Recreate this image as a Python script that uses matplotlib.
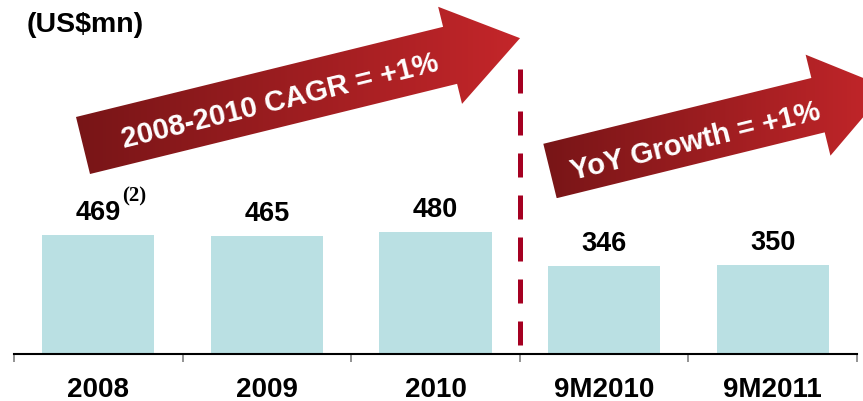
import numpy as np
import matplotlib
matplotlib.use("Agg")
import matplotlib.pyplot as plt
from matplotlib.patches import Polygon
from matplotlib.colors import LinearSegmentedColormap

categories = ["2008", "2009", "2010", "9M2010", "9M2011"]
values = [469, 465, 480, 346, 350]
value_labels = ["469", "465", "480", "346", "350"]
unit_label = "(US$mn)"
arrow1_text = "2008-2010 CAGR = +1%"
arrow2_text = "YoY Growth = +1%"
footnote = "(2)"

W, H = 863, 402
DPI = 100
fig = plt.figure(figsize=(W / DPI, H / DPI), dpi=DPI)

# main axes in pixel placement
ax_left, ax_right = 14, 857
ax_bottom_px = 355
scale = 0.254  # px per unit
ax_top_px = 20
ymax = (ax_bottom_px - ax_top_px) / scale
ax = fig.add_axes([ax_left / W, (H - ax_bottom_px) / H,
                   (ax_right - ax_left) / W, (ax_bottom_px - ax_top_px) / H])
x = np.arange(len(categories))
bar_color = "#bae0e3"
ax.bar(x, values, width=0.665, color=bar_color, zorder=2)
ax.set_xlim(-0.5, len(categories) - 0.5)
ax.set_ylim(0, ymax)
for s in ["top", "right", "left"]:
    ax.spines[s].set_visible(False)
ax.spines["bottom"].set_linewidth(1.5)
ax.spines["bottom"].set_color("black")
ax.set_yticks([])
ax.set_xticks(np.arange(-0.5, len(categories), 1.0))
ax.set_xticklabels([])
ax.tick_params(axis="x", which="major", length=6, width=1.2, color="#808080", direction="out")
ax.set_xticks(x, minor=True)
ax.set_xticklabels(categories, minor=True, fontsize=20, fontweight="bold",
                   family=["Liberation Sans", "DejaVu Sans"])
ax.tick_params(axis="x", which="minor", length=0, pad=16)

for xi, v, lab in zip(x, values, value_labels):
    ax.annotate(lab, (xi, v), xytext=(0, 10), textcoords="offset pixels",
                ha="center", va="bottom", fontsize=19.5, fontweight="bold",
                family=["Liberation Sans", "DejaVu Sans"])
ax.annotate(footnote, (x[0], values[0]), xytext=(24, 29), textcoords="offset pixels",
            ha="left", va="bottom", fontsize=15, fontweight="bold",
            family=["Liberation Serif", "DejaVu Serif"])

# dashed separator
ax.plot([2.5, 2.5], [(ax_bottom_px - 70) / scale, (ax_bottom_px - 346) / scale],
        color="#a50021", lw=3.6, dashes=(4.8, 3.6), solid_capstyle="butt",
        dash_capstyle="butt", zorder=3)

# overlay axes in pixel coordinates
ov = fig.add_axes([0, 0, 1, 1], zorder=5)
ov.set_xlim(0, W)
ov.set_ylim(H, 0)
ov.axis("off")
ov.patch.set_visible(False)

fig.text(27 / W, 1 - 25 / H, unit_label, ha="left", va="center", fontsize=20.5,
         fontweight="bold", family=["Liberation Sans", "DejaVu Sans"])

cmap = LinearSegmentedColormap.from_list("arr", ["#781517", "#c4262a"])
ang = np.deg2rad(13.8)
u = np.array([np.cos(ang), -np.sin(ang)])
n = np.array([np.sin(ang), np.cos(ang)])


def arrow(M, bw, blen, hw, hlen, text, tshift):
    M = np.array(M, float)
    pts = [M - n * bw / 2, M + u * blen - n * bw / 2, M + u * blen - n * hw,
           M + u * (blen + hlen), M + u * blen + n * hw, M + u * blen + n * bw / 2,
           M + n * bw / 2]
    pts = np.array(pts)
    poly = Polygon(pts, closed=True, facecolor="none", edgecolor="none")
    ov.add_patch(poly)
    x0, x1 = pts[:, 0].min(), pts[:, 0].max()
    y0, y1 = pts[:, 1].min(), pts[:, 1].max()
    grad = np.linspace(0, 1, 256).reshape(1, -1)
    im = ov.imshow(grad, cmap=cmap, extent=(x0, x1, y1, y0), aspect="auto",
                   interpolation="bilinear", zorder=1)
    im.set_clip_path(poly)
    c = M + u * tshift[0] + n * tshift[1]
    ov.text(c[0], c[1], text, rotation=13.8, rotation_mode="anchor",
            ha="center", va="center", color="white", fontsize=21,
            fontweight="bold", family=["Liberation Sans", "DejaVu Sans"], zorder=2)


arrow((83, 146.5), 58.7, 378, 50, 72, arrow1_text, (202, 3))
arrow((550, 172), 56, 276, 52, 72, arrow2_text, (149, 5))
ov.set_xlim(0, W)
ov.set_ylim(H, 0)

fig.savefig("out.png", dpi=DPI, facecolor="white")
